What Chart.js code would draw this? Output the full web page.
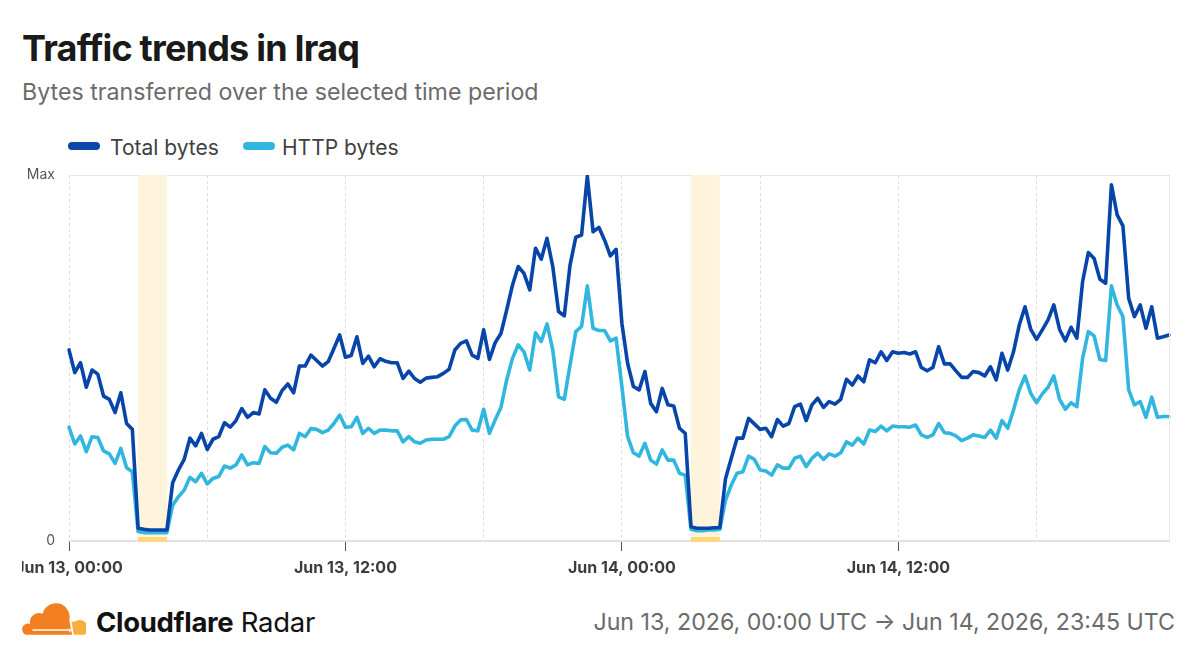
<!DOCTYPE html>
<html>
<head>
<meta charset="utf-8">
<script src="https://cdn.jsdelivr.net/npm/chart.js@4.4.1/dist/chart.umd.min.js"></script>
<style>
  html, body { margin: 0; padding: 0; background: #fff; }
  body { width: 1200px; height: 660px; position: relative; overflow: hidden; font-family: Inter, "Noto Sans", sans-serif; }
  .abs { position: absolute; white-space: nowrap; line-height: 1; }
  #title { left: 22px; top: 30px; font-size: 36px; font-weight: 700; color: #1a1a1a; letter-spacing: -0.8px; }
  #subtitle { left: 22px; top: 81px; font-size: 23.2px; color: #6b6b6b; }
  .leg { top: 137px; font-size: 21px; color: #404040; }
  .pill { position: absolute; top: 142px; width: 32px; height: 8px; border-radius: 4px; }
  #brand { left: 96px; top: 609px; font-size: 27.5px; color: #111; letter-spacing: -0.3px; }
  #range { right: 25px; top: 611px; font-size: 23.2px; color: #6b6b6b; }
  #wrap { position: absolute; left: 22px; top: 160px; width: 1178px; height: 440px; }
</style>
</head>
<body>
<div id="title" class="abs">Traffic trends in Iraq</div>
<div id="subtitle" class="abs">Bytes transferred over the selected time period</div>
<div class="pill" style="left:68px;background:#0A47A8"></div>
<div class="abs leg" style="left:110px">Total bytes</div>
<div class="pill" style="left:243px;background:#31B7DF"></div>
<div class="abs leg" style="left:282px">HTTP bytes</div>
<div id="wrap"><canvas id="c" width="1178" height="440"></canvas></div>
<svg style="position:absolute;left:22px;top:603px" width="64" height="34" viewBox="0 0 56 30">
  <path fill="#F38020" d="M3 28 H44 L41.5 15 A12 12 0 0 0 18 9.5 A8 8 0 0 0 7 18.5 A5 5 0 0 0 3 28 Z"/>
  <path fill="#FAAE40" d="M45.5 28 H55 A7 7 0 0 0 46 16.5 L43.5 16.5 Z"/>
  <path stroke="#fff" stroke-width="1.2" d="M9 23.8 H41"/>
  <path fill="#fff" d="M42 21.5 L42.8 23.8 L45 24 L42.8 24.4 L42 26.5 L41.3 24.4 L39.5 24 L41.3 23.8 Z"/>
</svg>
<div id="brand" class="abs"><b>Cloudflare</b> Radar</div>
<div id="range" class="abs">Jun 13, 2026, 00:00 UTC → Jun 14, 2026, 23:45 UTC</div>
<script>
// Categories: 15-minute intervals, Jun 13 00:00 to Jun 14 23:45 UTC
const startDay = 13;
const intervalsPerDay = 96;
const categories = [];
for (let d = 0; d < 2; d++) {
  for (let q = 0; q < intervalsPerDay; q++) {
    const h = String(Math.floor(q / 4)).padStart(2, '0');
    const m = String((q % 4) * 15).padStart(2, '0');
    categories.push('Jun ' + (startDay + d) + ', ' + h + ':' + m);
  }
}

// Series values, relative to the period maximum (0..100)
const totalBytes = [
  52.2,46.0,48.7,42.0,46.7,45.6,39.6,38.7,35.1,40.5,32.1,30.5,
  3.5,3.2,3.0,3.0,3.0,3.0,
  15.9,19.4,22.3,28.1,26.0,29.4,25.0,27.8,28.5,32.3,31.1,32.9,36.2,
  33.8,35.1,34.7,41.3,39.0,37.9,41.1,42.9,40.5,47.8,47.8,50.8,49.3,47.8,49.0,52.6,56.3,50.2,50.7,55.8,48.5,50.5,47.6,49.8,49.1,48.7,48.7,44.4,46.4,44.4,43.4,44.5,44.7,
  44.9,45.8,46.9,52.2,54.0,54.7,50.8,49.9,57.7,49.6,54.2,56.7,63.1,69.9,75.0,73.1,68.6,80.0,77.0,82.7,75.0,62.7,61.5,75.4,83.0,83.6,99.7,84.5,85.7,82.2,77.9,79.7,
  59.5,48.5,42.2,41.3,46.3,37.6,35.3,41.7,37.2,36.9,30.8,29.4,3.9,3.5,3.5,3.5,3.6,3.7,17.1,22.6,28.1,28.1,33.5,32.0,30.5,30.8,28.5,33.2,31.4,32.1,36.7,37.4,
  32.9,37.2,39.0,36.5,38.1,37.4,38.7,44.2,42.6,45.1,43.5,49.5,48.7,51.7,49.3,51.7,51.3,51.5,51.1,51.7,47.4,46.5,47.4,53.1,48.4,48.4,46.5,44.7,44.7,46.3,46.0,45.1,
  47.6,44.0,51.3,46.7,51.7,59.0,64.0,57.8,55.1,57.7,60.4,64.5,57.8,54.7,58.4,55.4,70.9,78.8,77.2,71.5,70.4,97.3,89.1,86.1,66.3,61.3,64.5,58.1,64.0,55.4,55.8,56.3
];
const httpBytes = [
  31.1,26.5,28.7,24.4,28.5,28.3,24.6,23.8,21.2,25.3,20.0,18.9,
  2.6,2.3,2.3,2.3,2.3,2.3,
  9.8,12.1,13.9,17.4,16.2,18.5,15.6,17.1,17.6,20.5,19.9,20.8,23.5,
  20.8,21.4,21.2,25.8,24.1,24.0,25.6,26.2,24.9,29.4,28.5,30.7,30.5,29.6,30.3,32.1,34.4,31.1,31.2,33.8,29.4,30.8,29.4,30.3,30.3,30.1,30.1,27.1,28.5,27.1,26.7,27.6,27.8,
  27.8,27.8,28.5,31.4,33.1,33.2,30.3,30.1,36.0,29.4,33.1,36.5,44.0,49.9,53.6,51.7,46.7,56.9,54.5,59.3,52.2,39.4,38.7,48.1,57.2,58.6,69.7,58.1,57.5,57.5,54.7,55.4,
  42.2,28.5,24.1,23.2,26.7,22.1,21.0,24.9,22.1,22.1,18.5,18.0,3.2,2.8,2.8,3.0,3.0,3.2,11.2,15.3,18.5,18.9,23.2,22.3,19.4,19.1,18.0,20.8,19.9,19.9,22.6,23.2,
  20.3,22.6,24.0,22.3,23.8,23.2,24.1,27.1,26.2,28.1,26.5,30.3,29.9,31.4,30.1,31.4,31.2,31.2,31.1,31.7,29.0,28.3,29.0,32.1,29.6,29.4,28.7,27.4,28.1,29.0,28.7,28.3,
  30.3,28.1,32.9,30.8,35.8,41.3,45.1,40.3,37.8,40.2,42.0,45.1,38.7,36.0,37.8,36.7,49.9,57.2,56.0,49.6,49.3,69.7,64.5,61.3,41.3,37.2,38.1,33.8,39.3,33.8,34.0,34.0
];

// Y tick labels
const yTickValues = [0, 100];
const yTickLabels = ['0', 'Max'];

// Highlighted periods (category index start, end)
const outageStart = [12, 108];
const outageEnd = [17, 113];

const bandsPlugin = {
  id: 'bands',
  beforeDatasetsDraw(chart) {
    const { ctx, chartArea, scales: { x } } = chart;
    ctx.save();
    for (let k = 0; k < outageStart.length; k++) {
      const x1 = x.getPixelForValue(outageStart[k]);
      const x2 = x.getPixelForValue(outageEnd[k]);
      ctx.fillStyle = '#FEF3DB';
      ctx.fillRect(x1, chartArea.top, x2 - x1, chartArea.bottom - chartArea.top - 4);
      ctx.fillStyle = '#FFD77E';
      ctx.fillRect(x1, chartArea.bottom - 4, x2 - x1, 5);
    }
    ctx.restore();
  },
  afterDraw(chart) {
    const { ctx, chartArea } = chart;
    ctx.save();
    ctx.strokeStyle = '#e6e6e6';
    ctx.lineWidth = 1;
    ctx.beginPath();
    ctx.moveTo(Math.round(chartArea.right) + 0.5, chartArea.top);
    ctx.lineTo(Math.round(chartArea.right) + 0.5, chartArea.bottom);
    ctx.stroke();
    ctx.restore();
  }
};

new Chart(document.getElementById('c'), {
  type: 'line',
  data: {
    labels: categories,
    datasets: [
      { label: 'Total bytes', data: totalBytes, borderColor: '#0845A9', backgroundColor: '#0845A9',
        borderWidth: 3.6, pointRadius: 0, tension: 0, borderJoinStyle: 'round', borderCapStyle: 'round' },
      { label: 'HTTP bytes', data: httpBytes, borderColor: '#31B7DF', backgroundColor: '#31B7DF',
        borderWidth: 3.6, pointRadius: 0, tension: 0, borderJoinStyle: 'round', borderCapStyle: 'round' }
    ]
  },
  options: {
    responsive: false,
    animation: false,
    layout: { padding: { top: 15, right: 31, left: 0, bottom: 0 } },
    plugins: { legend: { display: false }, tooltip: { enabled: false } },
    scales: {
      x: {
        type: 'category',
        offset: false,
        afterFit(scale) { scale.height = 59; scale.paddingLeft = 0; scale.paddingRight = 0; },
        grid: {
          color: (c) => (c.index % 24 === 0 ? '#dcdcdc' : 'rgba(0,0,0,0)'),
          lineWidth: 1,
          drawTicks: true,
          tickLength: 10,
          tickColor: (c) => (c.index % 48 === 0 ? '#555' : 'rgba(0,0,0,0)'),
          tickWidth: 1
        },
        border: { display: true, color: '#e2e2e2', width: 2, dash: [3, 3] },
        ticks: {
          autoSkip: false,
          maxRotation: 0,
          minRotation: 0,
          padding: 8,
          color: '#3d3d3d',
          font: { family: 'Inter', size: 16, weight: '700' },
          callback(value, index) { return index % 48 === 0 ? this.getLabelForValue(value) : ''; }
        }
      },
      y: {
        min: 0,
        max: 100,
        afterFit(scale) { scale.width = 47; scale.paddingTop = 0; scale.paddingBottom = 0; },
        afterBuildTicks(scale) { scale.ticks = yTickValues.map(v => ({ value: v })); },
        grid: { color: '#e6e6e6', lineWidth: 1, drawTicks: false },
        border: { display: false },
        ticks: {
          padding: 14,
          color: '#555',
          font: { family: 'Inter', size: 14 },
          callback(value) { return yTickLabels[yTickValues.indexOf(value)]; }
        }
      }
    }
  },
  plugins: [bandsPlugin]
});
</script>
</body>
</html>
